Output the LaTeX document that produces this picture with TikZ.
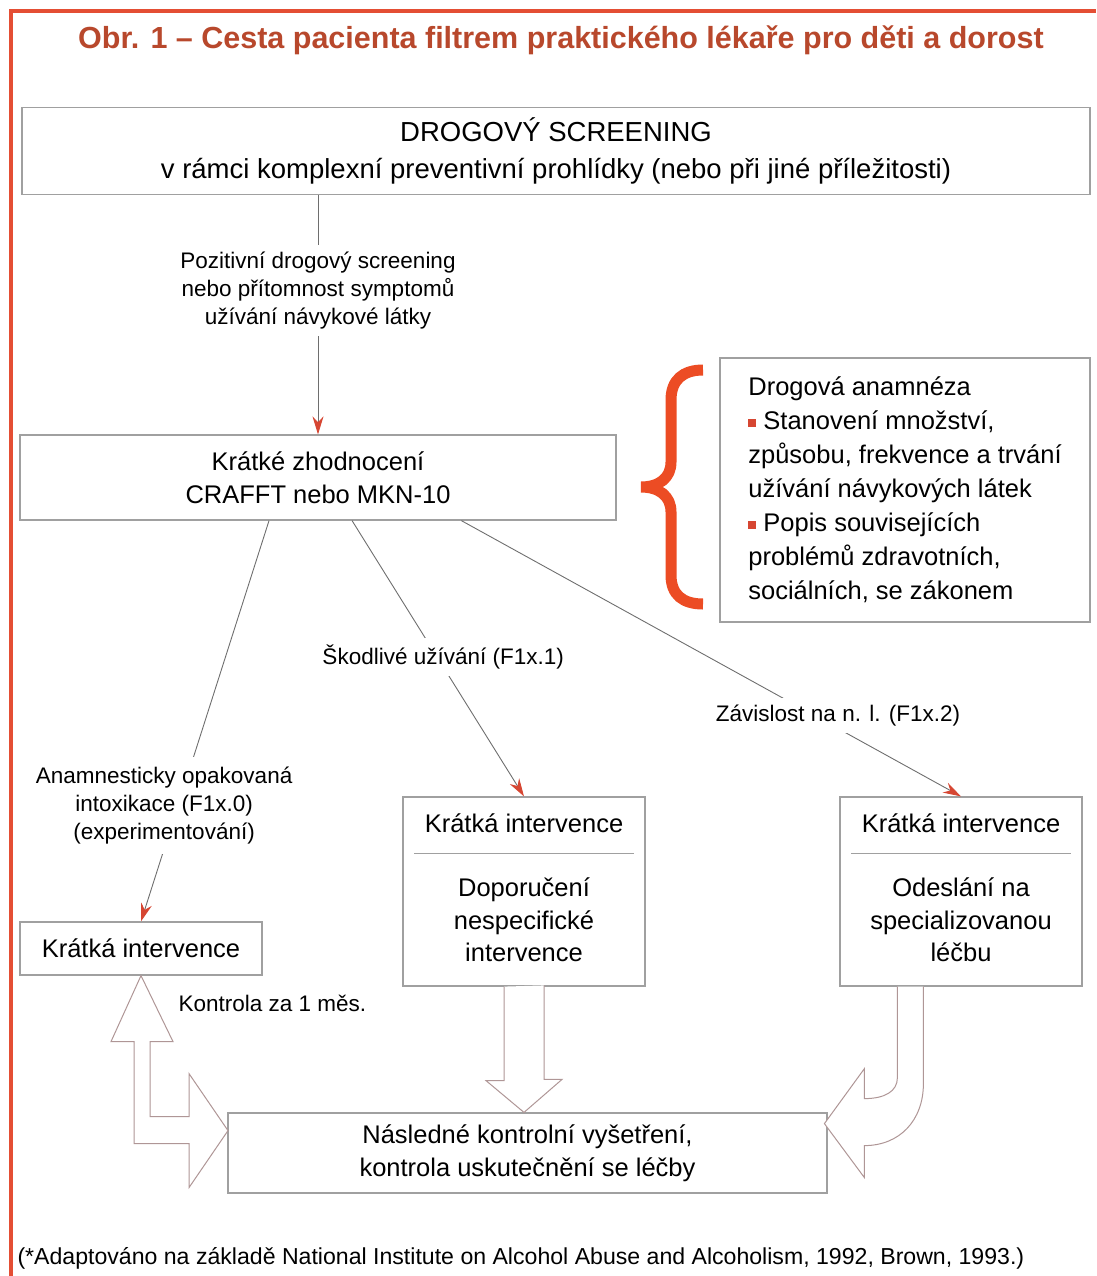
\documentclass[tikz,border=0pt]{standalone}
\usepackage{fontspec}
\setmainfont{Liberation Sans}
\usetikzlibrary{arrows.meta,calc}

\definecolor{framered}{RGB}{228,78,52}
\definecolor{titlered}{RGB}{184,72,44}
\definecolor{bracered}{RGB}{236,76,36}
\definecolor{arrowred}{RGB}{214,70,50}
\definecolor{boxgray}{RGB}{160,160,160}
\definecolor{linegray}{RGB}{110,110,110}
\definecolor{hollowgray}{RGB}{175,150,150}

\newcommand{\bul}{{\color{arrowred}\rule[2.5pt]{8pt}{8pt}}\ }

\begin{document}
\begin{tikzpicture}[x=1pt,y=-1pt,
  box/.style={draw=boxgray, line width=1.2pt, align=center, inner sep=0pt, font=\fontsize{25.5}{33}\selectfont},
  lbl/.style={align=center, fill=white, inner sep=7pt, font=\fontsize{22.5}{28}\selectfont},
  conn/.style={draw=linegray, line width=0.9pt},
  tip/.style={-{Stealth[length=18pt,width=11pt,color=arrowred]}},
  hollow/.style={draw=hollowgray, line width=1pt, fill=white, line join=miter}]

  % Canvas and red frame
  \useasboundingbox (0,0) rectangle (1096,1276);
  \draw[framered, line width=3.5pt] (11,1276) -- (11,11) -- (1096,11);

  % Title
  \node[font=\fontsize{30.5}{33}\selectfont\bfseries, text=titlered] (title) at (561,40)
    {Obr. 1 – Cesta pacienta filtrem praktického lékaře pro děti a dorost};

  % Main boxes
  \node[box, minimum width=1068pt, minimum height=87pt, font=\fontsize{27.5}{37}\selectfont] (drog) at (556,151)
    {DROGOVÝ SCREENING\\v rámci komplexní preventivní prohlídky (nebo při jiné příležitosti)};
  \node[box, minimum width=596pt, minimum height=85pt] (krat) at (318,477.5)
    {Krátké zhodnocení\\CRAFFT nebo MKN-10};
  \node[box, minimum width=370pt, minimum height=264pt, align=left, font=\fontsize{25.5}{34}\selectfont] (anam) at (905,490)
    {Drogová anamnéza\\ \bul Stanovení množství,\\ způsobu, frekvence a trvání\\ užívání návykových látek\\ \bul Popis souvisejících\\ problémů zdravotních,\\ sociálních, se zákonem};

  % Brace
  \draw[bracered, line width=11pt] (703,370) .. controls (683,370) and (671,380) .. (671,400) -- (671,462)
    .. controls (671,478) and (659,487) .. (641,487) .. controls (659,487) and (671,496) .. (671,512)
    -- (671,575) .. controls (671,595) and (683,604) .. (703,604);

  % Intervention boxes
  \node[box, minimum width=242pt, minimum height=53pt] (ki1) at (141,948.5) {Krátká intervence};
  \node[box, minimum width=242pt, minimum height=189pt] (ki2) at (524,891.5) {};
  \node[box, minimum width=242pt, minimum height=189pt] (ki3) at (961,891.5) {};
  \node[font=\fontsize{25.5}{33}\selectfont] (ki2head) at (524,823) {Krátká intervence};
  \node[font=\fontsize{25.5}{32.5}\selectfont, align=center] (ki2body) at (524,920) {Doporučení\\nespecifické\\intervence};
  \node[font=\fontsize{25.5}{33}\selectfont] (ki3head) at (961,823) {Krátká intervence};
  \node[font=\fontsize{25.5}{32.5}\selectfont, align=center] (ki3body) at (961,920) {Odeslání na\\specializovanou\\léčbu};
  \draw[boxgray, line width=1.2pt] ($(ki2.north west)+(12,57)$) -- ($(ki2.north east)+(-12,57)$);
  \draw[boxgray, line width=1.2pt] ($(ki3.north west)+(12,57)$) -- ($(ki3.north east)+(-12,57)$);

  % Follow-up box
  \node[box, minimum width=599pt, minimum height=80pt] (follow) at (527.5,1153)
    {Následné kontrolní vyšetření,\\kontrola uskutečnění se léčby};

  % Connectors with labels
  \coordinate (sA) at ($(krat.south west)!0.418!(krat.south east)$);
  \coordinate (sB) at ($(krat.south west)!0.557!(krat.south east)$);
  \coordinate (sC) at ($(krat.south west)!0.740!(krat.south east)$);

  \draw[conn, tip] (drog.south -| krat.north) -- node[lbl, pos=0.4]
    {Pozitivní drogový screening\\nebo přítomnost symptomů\\užívání návykové látky} (krat.north);
  \draw[conn, tip] (sA) -- node[lbl, pos=0.71, xshift=-14pt, inner ysep=10pt]
    {Anamnesticky opakovaná\\intoxikace (F1x.0)\\(experimentování)} (ki1.north);
  \draw[conn, tip] (sB) -- node[lbl, pos=0.495, xshift=6pt] {Škodlivé užívání (F1x.1)} (ki2.north);
  \draw[conn, tip] (sC) -- node[lbl, pos=0.708, xshift=23pt] {Závislost na n. l. (F1x.2)} (ki3.north);

  % Hollow block arrows
  \draw[hollow] (ki1.south) -- ++(32,66) -- ++(-23,0) -- ++(0,75) -- ++(39,0) -- ++(0,-43)
    -- ++(39,57) -- ++(-39,57) -- ++(0,-44) -- ++(-55,0) -- ++(0,-102) -- ++(-23,0) -- cycle;
  \draw[hollow] ($(ki2.south)+(-20,0)$) -- ++(0,94) -- ++(-18,0) -- (follow.north -| ki2.south)
    -- ++(38,-33) -- ++(-18,0) -- ++(0,-94);
  \begin{scope}[shift={(ki3.south west)}]
    \draw[hollow] (58,0) -- (58,91) .. controls (58,105) and (45,112) .. (25,112) -- (25,82)
      -- (-15,137) -- (25,191) -- (25,159) .. controls (60,159) and (84,134) .. (84,97) -- (84,0);
  \end{scope}

  % Free labels
  \node[anchor=west, font=\fontsize{22.5}{28}\selectfont] (kontrola) at (175,1003) {Kontrola za 1 měs.};
  \node[anchor=west, font=\fontsize{23.1}{26}\selectfont] (zdroj) at (14,1258)
    {(*Adaptováno na základě National Institute on Alcohol Abuse and Alcoholism, 1992, Brown, 1993.)};

\end{tikzpicture}
\end{document}
